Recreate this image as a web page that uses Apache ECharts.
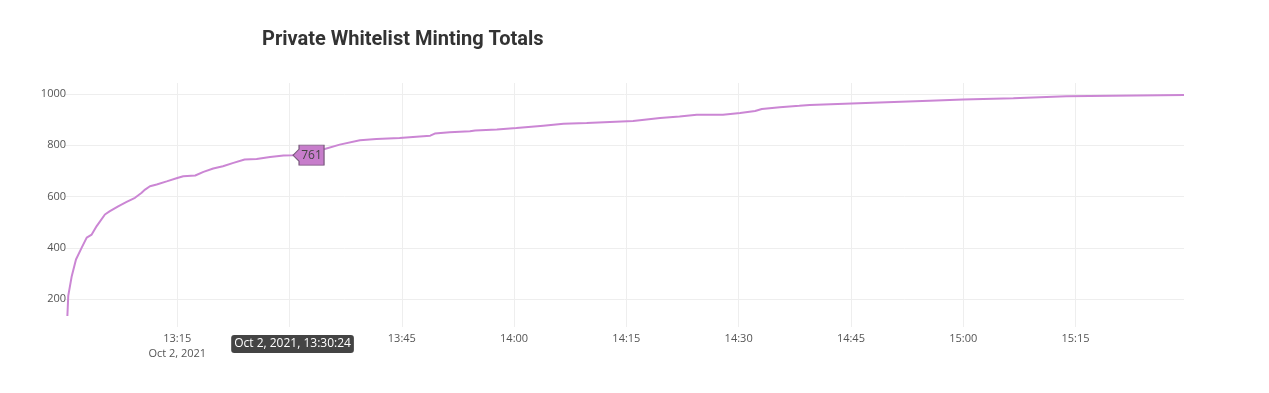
<!DOCTYPE html>
<html>
<head>
<meta charset="utf-8">
<script src="https://cdn.jsdelivr.net/npm/echarts@6/dist/echarts.min.js"></script>
<style>
html,body{margin:0;padding:0;background:#fff;}
#chart{width:1269px;height:393px;}
</style>
</head>
<body>
<div id="chart"></div>
<script>
const chartTitle = 'Private Whitelist Minting Totals';
const times = [
  '2021-10-02 13:00:19','2021-10-02 13:00:26','2021-10-02 13:00:54','2021-10-02 13:01:28',
  '2021-10-02 13:02:14','2021-10-02 13:02:54','2021-10-02 13:03:34','2021-10-02 13:04:14',
  '2021-10-02 13:05:20','2021-10-02 13:06:00','2021-10-02 13:07:06','2021-10-02 13:08:14',
  '2021-10-02 13:09:21','2021-10-02 13:10:12','2021-10-02 13:10:42','2021-10-02 13:11:21',
  '2021-10-02 13:12:15','2021-10-02 13:13:35','2021-10-02 13:15:00','2021-10-02 13:15:48',
  '2021-10-02 13:17:24','2021-10-02 13:18:30','2021-10-02 13:19:48','2021-10-02 13:21:06',
  '2021-10-02 13:22:30','2021-10-02 13:24:00','2021-10-02 13:25:36','2021-10-02 13:27:24',
  '2021-10-02 13:29:12','2021-10-02 13:30:24','2021-10-02 13:34:42','2021-10-02 13:36:42',
  '2021-10-02 13:39:24','2021-10-02 13:41:36','2021-10-02 13:44:42','2021-10-02 13:47:24',
  '2021-10-02 13:48:48','2021-10-02 13:49:24','2021-10-02 13:51:24','2021-10-02 13:54:06',
  '2021-10-02 13:54:48','2021-10-02 13:57:42','2021-10-02 14:00:18','2021-10-02 14:03:54',
  '2021-10-02 14:06:36','2021-10-02 14:09:42','2021-10-02 14:12:48','2021-10-02 14:15:54',
  '2021-10-02 14:19:30','2021-10-02 14:22:06','2021-10-02 14:24:24','2021-10-02 14:27:54',
  '2021-10-02 14:30:12','2021-10-02 14:32:12','2021-10-02 14:33:06','2021-10-02 14:35:30',
  '2021-10-02 14:38:06','2021-10-02 14:39:30','2021-10-02 14:45:06','2021-10-02 14:47:54',
  '2021-10-02 14:55:30','2021-10-02 15:00:00','2021-10-02 15:06:42','2021-10-02 15:13:48',
  '2021-10-02 15:20:00','2021-10-02 15:29:30'
];
const totals = [
  135,213,290,355,
  401,440,452,485,
  530,543,562,579,
  595,614,627,640,
  647,659,672,679,
  682,696,709,718,
  731,744,746,754,
  760,761,785,802,
  819,824,828,834,
  837,845,850,854,
  857,861,867,876,
  883,886,890,894,
  906,912,918,918,
  925,933,941,948,
  953,956,962,965,
  973,978,983,990,
  992,995
];
const axisStart = '2021-10-02 13:00:00';
const hoverTime = '2021-10-02 13:30:24';
const hoverLabel = 'Oct 2, 2021, 13:30:24';
const dateLabel = 'Oct 2, 2021';

const toMs = s => new Date(s.replace(' ', 'T')).getTime();
const hoverIdx = times.indexOf(hoverTime);
const seriesData = times.map((t, i) => [toMs(t), totals[i]]);
const pad = n => (n < 10 ? '0' : '') + n;
const QUARTER = 15 * 60 * 1000;

const chart = echarts.init(document.getElementById('chart'), null, {renderer: 'canvas'});
chart.setOption({
  animation: false,
  backgroundColor: '#fff',
  title: {
    text: chartTitle,
    left: 257,
    top: 25,
    textStyle: {fontFamily: 'Roboto', fontSize: 20, fontWeight: 'bold', color: '#333'}
  },
  grid: {left: 65, right: 85, top: 83, bottom: 66, containLabel: false},
  xAxis: {
    type: 'value',
    min: toMs(axisStart),
    max: toMs(times[times.length - 1]),
    interval: QUARTER,
    axisLine: {show: false},
    axisTick: {show: false},
    splitLine: {show: true, showMinLine: false, showMaxLine: false, lineStyle: {color: '#eeeeee', width: 1}},
    axisLabel: {
      color: '#555',
      fontFamily: 'Open Sans',
      fontSize: 11,
      lineHeight: 15,
      margin: 4,
      showMinLabel: false,
      showMaxLabel: false,
      formatter: function (value) {
        const d = new Date(value);
        const s = pad(d.getHours()) + ':' + pad(d.getMinutes());
        if (d.getHours() === 13 && d.getMinutes() === 15) return s + '\n' + dateLabel;
        return s;
      }
    },
    axisPointer: {
      show: true,
      status: 'show',
      value: toMs(hoverTime),
      triggerTooltip: false,
      lineStyle: {opacity: 0},
      label: {
        show: true,
        margin: 8,
        backgroundColor: '#444',
        color: '#fff',
        fontFamily: 'Open Sans',
        fontSize: 12,
        padding: [3, 3, 3, 3],
        borderColor: '#fff',
        borderWidth: 1,
        formatter: function () { return hoverLabel; }
      }
    }
  },
  yAxis: {
    type: 'value',
    min: 92,
    max: 1042,
    splitNumber: 5,
    axisLine: {show: false},
    axisTick: {show: false},
    splitLine: {show: true, showMinLine: false, showMaxLine: false, lineStyle: {color: '#eeeeee', width: 1}},
    axisLabel: {
      color: '#555',
      fontFamily: 'Open Sans',
      fontSize: 11,
      margin: -1,
      showMinLabel: false,
      showMaxLabel: false,
      formatter: function (v) { return String(v); }
    }
  },
  series: [{
    type: 'line',
    data: seriesData,
    showSymbol: false,
    smooth: false,
    lineStyle: {color: '#cb86d4', width: 2},
    itemStyle: {color: '#cb86d4'},
    markPoint: {
      symbol: 'path://M0,10L6,4L6,0L31,0L31,20L6,20L6,16Z',
      symbolSize: [31, 20],
      symbolOffset: [16, 0],
      silent: true,
      itemStyle: {color: '#c77dcb', borderColor: '#7a5a7e', borderWidth: 1},
      label: {
        show: true,
        position: 'inside',
        offset: [3, 0],
        color: '#444',
        fontFamily: 'Open Sans',
        fontSize: 12,
        formatter: String(totals[hoverIdx])
      },
      data: [{coord: [toMs(times[hoverIdx]), totals[hoverIdx]], value: totals[hoverIdx]}]
    }
  }]
});
</script>
</body>
</html>
